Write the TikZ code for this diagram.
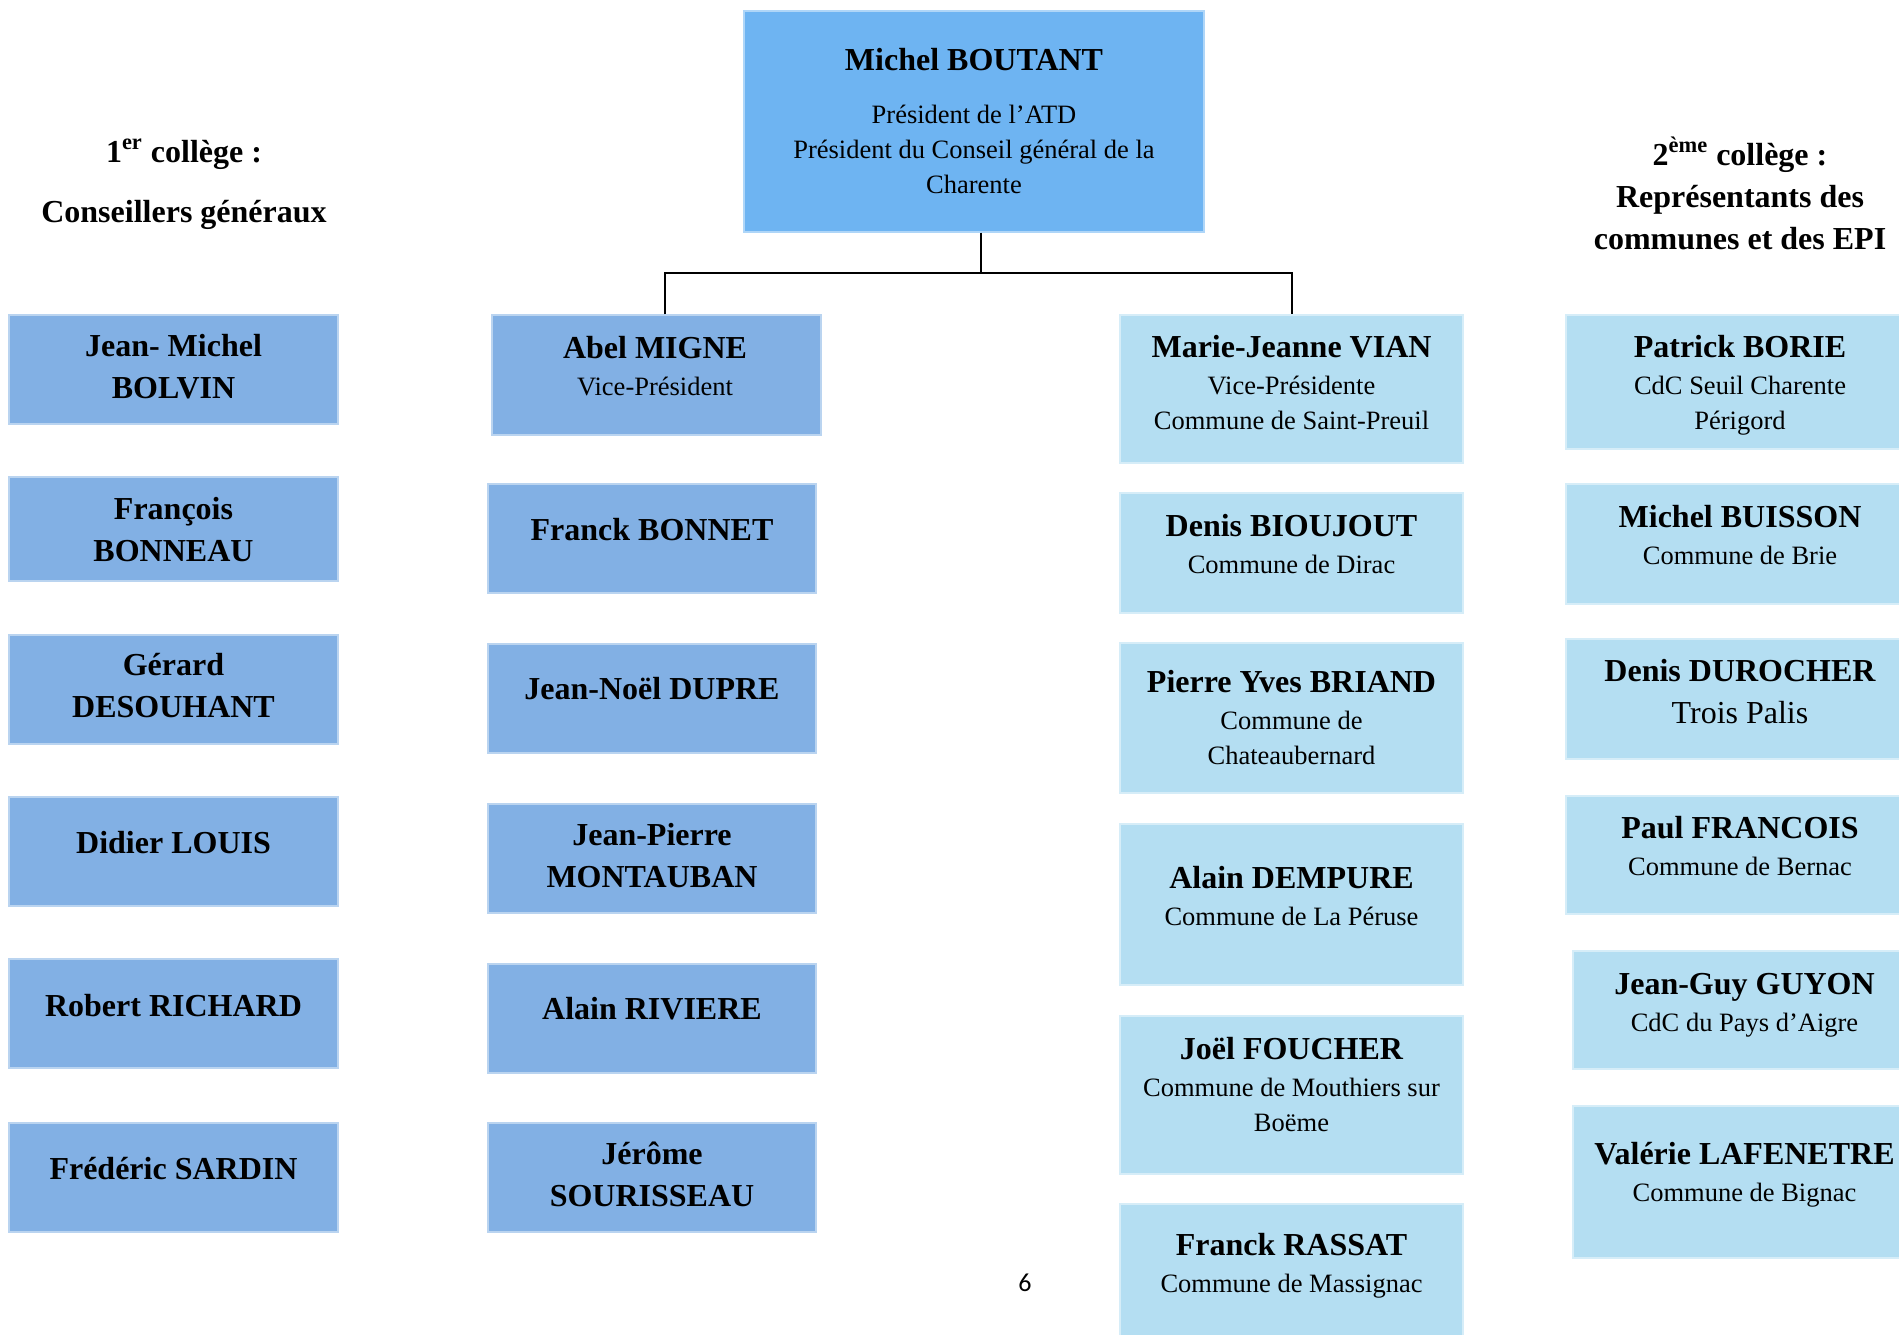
\documentclass[tikz,border=0pt]{standalone}
\usepackage{fontspec}
\setmainfont{Liberation Serif}
\newfontfamily\pagefont{Carlito}
\definecolor{topblue}{RGB}{110,180,242}
\definecolor{midblue}{RGB}{130,176,228}
\definecolor{paleblue}{RGB}{180,222,242}
\newcommand{\nm}[1]{{\fontsize{16}{19}\selectfont\bfseries #1}}
% box, then its text: name, box options, box centre, text centre, text
\newcommand{\member}[5]{%
  \node[#2] (#1) at (#3) {};
  \node[txt] (#1-txt) at (#4) {#5};}

\begin{document}
\begin{tikzpicture}[x=0.5pt,y=-0.5pt,
  box/.style={draw=#1!55!white, line width=0.6pt, fill=#1, inner sep=0pt},
  txt/.style={align=center, inner sep=0pt, font=\fontsize{13.25}{17.5}\selectfont},
  head/.style={align=center, font=\fontsize{16}{21}\selectfont\bfseries},
  link/.style={line width=1pt}]
\useasboundingbox (0,0) rectangle (1899,1334);
\clip (0,0) rectangle (1899,1334);
% president
\node[box=topblue, minimum width=230pt, minimum height=110.5pt, txt] (boutant) at (974,121.5)
  {\nm{Michel BOUTANT}\\[9pt]Président de l’ATD\\Président du Conseil général de la\\Charente};
% college headings
\node[head] (college1) at (184,184) {1\textsuperscript{er} collège :\\[9pt]Conseillers généraux};
\node[head] (college2) at (1740,193.5) {2\textsuperscript{ème} collège :\\Représentants des\\communes et des EPI};
% 1er college
\member{bolvin}{box=midblue, minimum width=164.5pt, minimum height=54.5pt}{173.5,369.5}{173.5,367}
  {\nm{Jean- Michel}\\[3.5pt]\nm{BOLVIN}}
\member{bonneau}{box=midblue, minimum width=164.5pt, minimum height=52pt}{173.5,529}{173.5,530}
  {\nm{François}\\[3.5pt]\nm{BONNEAU}}
\member{desouhant}{box=midblue, minimum width=164.5pt, minimum height=54.5pt}{173.5,689.5}{173.5,686}
  {\nm{Gérard}\\[3.5pt]\nm{DESOUHANT}}
\member{louis}{box=midblue, minimum width=164.5pt, minimum height=54.5pt}{173.5,851.5}{173.5,843}
  {\nm{Didier LOUIS}}
\member{richard}{box=midblue, minimum width=164.5pt, minimum height=54.5pt}{173.5,1013.5}{173.5,1006}
  {\nm{Robert RICHARD}}
\member{sardin}{box=midblue, minimum width=164.5pt, minimum height=54.5pt}{173.5,1177.5}{173.5,1169}
  {\nm{Frédéric SARDIN}}
\member{abel}{box=midblue, minimum width=164.5pt, minimum height=60pt}{656.5,375}{655,366.5}
  {\nm{Abel MIGNE}\\[1pt]Vice-Président}
\member{bonnet}{box=midblue, minimum width=164pt, minimum height=54.5pt}{652,538.5}{652,530}
  {\nm{Franck BONNET}}
\member{dupre}{box=midblue, minimum width=164pt, minimum height=54.5pt}{652,698.5}{652,689}
  {\nm{Jean-Noël DUPRE}}
\member{montauban}{box=midblue, minimum width=164pt, minimum height=54.5pt}{652,858.5}{652,856}
  {\nm{Jean-Pierre}\\[3.5pt]\nm{MONTAUBAN}}
\member{riviere}{box=midblue, minimum width=164pt, minimum height=54.5pt}{652,1018.5}{652,1009}
  {\nm{Alain RIVIERE}}
\member{sourisseau}{box=midblue, minimum width=164pt, minimum height=54.5pt}{652,1177.5}{652,1174.5}
  {\nm{Jérôme}\\[3.5pt]\nm{SOURISSEAU}}
% 2eme college
\member{vian}{box=paleblue, minimum width=171.5pt, minimum height=74pt}{1291.5,389}{1291.5,383}
  {\nm{Marie-Jeanne VIAN}\\[1pt]Vice-Présidente\\Commune de Saint-Preuil}
\member{bioujout}{box=paleblue, minimum width=171.5pt, minimum height=60pt}{1291.5,553}{1291.5,544}
  {\nm{Denis BIOUJOUT}\\[1pt]Commune de Dirac}
\member{briand}{box=paleblue, minimum width=171.5pt, minimum height=75pt}{1291.5,718}{1291.5,717.5}
  {\nm{Pierre Yves BRIAND}\\[1pt]Commune de\\Chateaubernard}
\member{dempure}{box=paleblue, minimum width=171.5pt, minimum height=80.5pt}{1291.5,904.5}{1291.5,896}
  {\nm{Alain DEMPURE}\\[1pt]Commune de La Péruse}
\member{foucher}{box=paleblue, minimum width=171.5pt, minimum height=79pt}{1291.5,1095}{1291.5,1085}
  {\nm{Joël FOUCHER}\\[1pt]Commune de Mouthiers sur\\Boëme}
\member{rassat}{box=paleblue, minimum width=171.5pt, minimum height=70pt}{1291.5,1274}{1291.5,1266}
  {\nm{Franck RASSAT}\\[1pt]Commune de Massignac}
\member{borie}{box=paleblue, minimum width=174pt, minimum height=67pt}{1740,382}{1740,385}
  {\nm{Patrick BORIE}\\[1pt]CdC Seuil Charente\\Périgord}
\member{buisson}{box=paleblue, minimum width=174pt, minimum height=60pt}{1740,544}{1740,535.5}
  {\nm{Michel BUISSON}\\[1pt]Commune de Brie}
\member{durocher}{box=paleblue, minimum width=174pt, minimum height=60pt}{1740,699}{1740,692}
  {\nm{Denis DUROCHER}\\[3.5pt]{\fontsize{16}{19}\selectfont Trois Palis}}
\member{francois}{box=paleblue, minimum width=174pt, minimum height=59pt}{1740,855}{1740,846.5}
  {\nm{Paul FRANCOIS}\\[1pt]Commune de Bernac}
\member{guyon}{box=paleblue, minimum width=171.5pt, minimum height=59pt}{1744.5,1010}{1744.5,1005}
  {\nm{Jean-Guy GUYON}\\[1pt]CdC du Pays d’Aigre}
\member{lafenetre}{box=paleblue, minimum width=171.5pt, minimum height=76pt}{1744.5,1182}{1744.5,1175}
  {\nm{Valérie LAFENETRE}\\[1pt]Commune de Bignac}
% links
\draw[link] ([xshift=3.5pt]boutant.south) -- ++(0,40) coordinate (stem);
\draw[link] ([xshift=4.25pt]abel.north) |- (stem) -| (vian.north);
% page number
\node[font=\pagefont\fontsize{13}{15}\selectfont] (page) at (1025,1283) {6};
\end{tikzpicture}
\end{document}
